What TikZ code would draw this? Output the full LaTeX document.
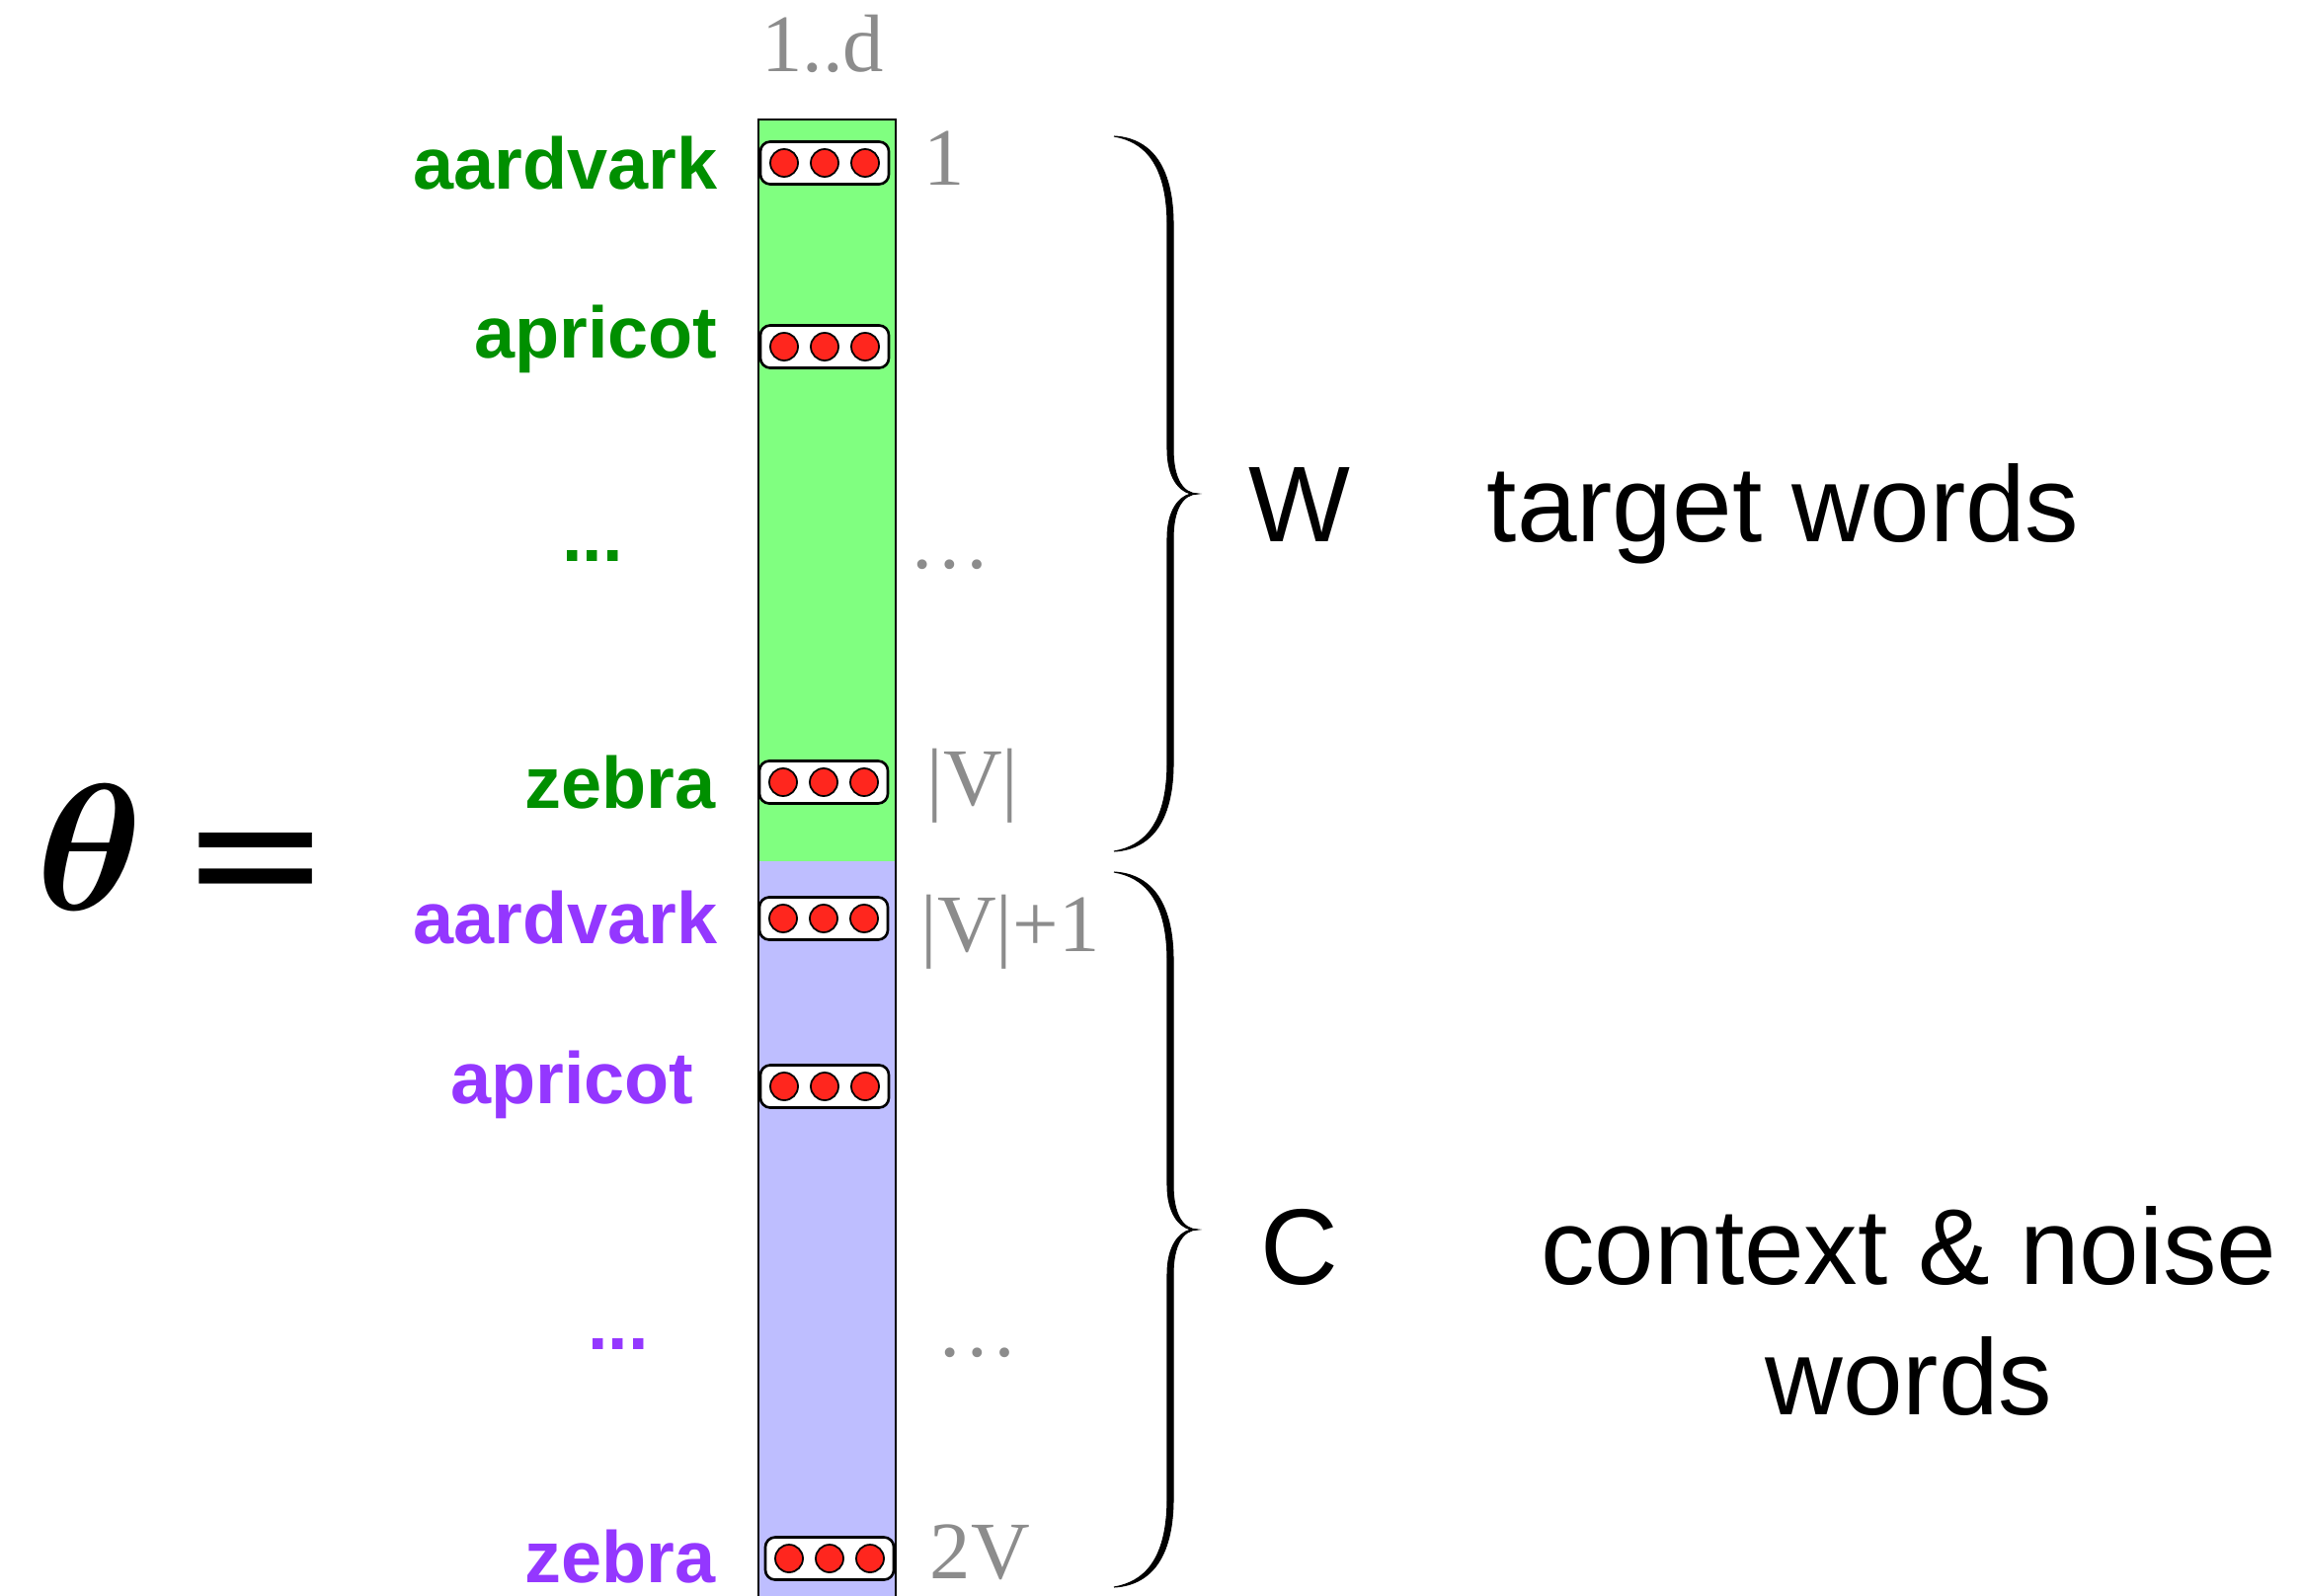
\documentclass[tikz,border=0pt]{standalone}
\usepackage{fix-cm}
\usepackage{amsmath}
\usepackage[no-math]{fontspec}
\setmainfont{Liberation Serif}
\newfontfamily\sansfont{Liberation Sans}
\newfontfamily\eqfont{DejaVu Sans}
\usetikzlibrary{calc}
\definecolor{wgreen}{RGB}{0,143,0}
\definecolor{wpurple}{RGB}{148,55,255}
\definecolor{colgreen}{RGB}{128,255,128}
\definecolor{colblue}{RGB}{190,190,255}
\definecolor{idxgray}{RGB}{140,140,140}
\definecolor{dotred}{RGB}{255,38,30}
\newcommand\pillrow[3]{%
  \node[pillbox] (#1) at (#2,#3) {};
  \node[reddot] (#1a) at ($(#1)+(-41,0)$) {};
  \node[reddot] (#1b) at (#1) {};
  \node[reddot] (#1c) at ($(#1)+(41,0)$) {};
}
\tikzset{curly/.pic={
  \filldraw[black, line width=0.3pt]
    (-85,-362) .. controls (-50,-360) and (-25,-335) .. (-25,-272)
    -- (-25,-45) .. controls (-25,-15) and (-15,0) .. (0,0)
    .. controls (-15,0) and (-25,15) .. (-25,45)
    -- (-25,272) .. controls (-25,335) and (-50,360) .. (-85,362)
    .. controls (-55,357) and (-31,335) .. (-31,272)
    -- (-31,45) .. controls (-31,18) and (-20,3) .. (-7,0)
    .. controls (-20,-3) and (-31,-18) .. (-31,-45)
    -- (-31,-272) .. controls (-31,-335) and (-55,-357) .. (-85,-362) -- cycle;
}}
\begin{document}
\begin{tikzpicture}[x=0.01cm,y=-0.01cm,
  wordg/.style={font=\sansfont\bfseries\fontsize{21}{25}\selectfont, text=wgreen, inner sep=0, anchor=base east},
  wordp/.style={font=\sansfont\bfseries\fontsize{21}{25}\selectfont, text=wpurple, inner sep=0, anchor=base east},
  idx/.style={font=\fontsize{23.5}{28}\selectfont, text=idxgray, inner sep=0, anchor=base west},
  big/.style={font=\sansfont\fontsize{31}{37}\selectfont, inner sep=0, anchor=base},
  pillbox/.style={draw=black, line width=0.75pt, fill=white, rounded corners=0.1cm, minimum width=1.3cm, minimum height=0.43cm, inner sep=0},
  reddot/.style={circle, draw=black, line width=0.5pt, fill=dotred, minimum size=0.28cm, inner sep=0},
]
\useasboundingbox (0,0) rectangle (2331,1616);
\fill[white] (0,0) rectangle (2331,1616);
% column
\begin{scope}
\clip (0,0) rectangle (2331,1616);
\fill[colgreen] (768,121) rectangle (907,872);
\fill[colblue] (768,872) rectangle (907,1640);
\draw[line width=0.8pt] (768,1640) -- (768,121) -- (907,121) -- (907,1640);
\end{scope}
% pills
\pillrow{r1}{835}{165}
\pillrow{r2}{835}{351}
\pillrow{r3}{834}{792}
\pillrow{r4}{834}{930}
\pillrow{r5}{835}{1100}
\pillrow{r6}{840}{1578}
% theta =
\node[inner sep=0, font=\fontsize{52}{60}\selectfont] (theta) at (91,858) {$\boldsymbol{\theta}$};
\node[inner sep=0, font=\eqfont\fontsize{52}{60}\selectfont, anchor=north] (eq) at (259,843) {=};
% word labels
\node[wordg] (ga) at (727,192) {aardvark};
\node[wordg] (gp) at (727,363) {apricot};
\node[wordg, anchor=base] (gd) at (600,569) {...};
\node[wordg] (gz) at (725,818) {zebra};
\node[wordp] (pa) at (727,955) {aardvark};
\node[wordp] (pp) at (703,1117) {apricot};
\node[wordp, anchor=base] (pd) at (626,1366) {...};
\node[wordp] (pz) at (725,1602) {zebra};
% indices
\node[idx, anchor=base] (dim) at (833,73) {1..d};
\node[idx] (i1) at (935,188) {1};
\node[idx, anchor=base] (idots1) at (962,575) {…};
\node[idx] (iV) at (938,815) {|V|};
\node[idx] (iV1) at (932,963) {|V|+1};
\node[idx, anchor=base] (idots2) at (990,1373) {…};
\node[idx] (i2V) at (941,1598) {2V};
% braces
\pic at (1213,500) {curly};
\pic at (1213,1245) {curly};
% right texts
\node[big] (W) at (1316,548) {W};
\node[big, anchor=base west] (tw) at (1505,548) {target words};
\node[big] (C) at (1316,1300) {C};
\node[big] (cn) at (1933,1300) {context \& noise};
\node[big] (cw) at (1933,1432) {words};
\end{tikzpicture}
\end{document}
